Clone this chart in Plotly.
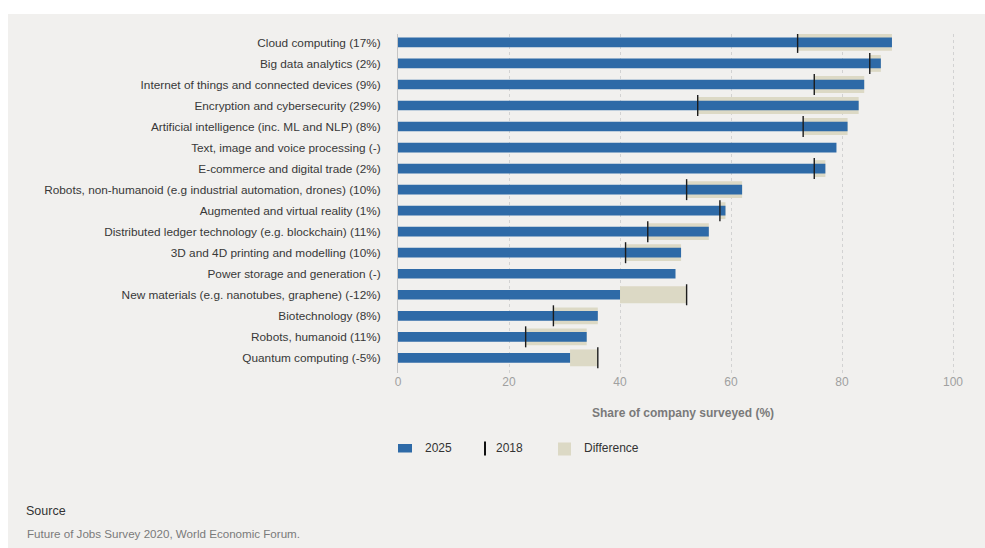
import plotly.graph_objects as go

categories = [
    "Cloud computing (17%)",
    "Big data analytics (2%)",
    "Internet of things and connected devices (9%)",
    "Encryption and cybersecurity (29%)",
    "Artificial intelligence (inc. ML and NLP) (8%)",
    "Text, image and voice processing (-)",
    "E-commerce and digital trade (2%)",
    "Robots, non-humanoid (e.g industrial automation, drones) (10%)",
    "Augmented and virtual reality (1%)",
    "Distributed ledger technology (e.g. blockchain) (11%)",
    "3D and 4D printing and modelling (10%)",
    "Power storage and generation (-)",
    "New materials (e.g. nanotubes, graphene) (-12%)",
    "Biotechnology (8%)",
    "Robots, humanoid (11%)",
    "Quantum computing (-5%)",
]
share_2025 = [89, 87, 84, 83, 81, 79, 77, 62, 59, 56, 51, 50, 40, 36, 34, 31]
share_2018 = [72, 85, 75, 54, 73, None, 75, 52, 58, 45, 41, None, 52, 28, 23, 36]
x_ticks = [0, 20, 40, 60, 80, 100]

BLUE = "#2e6aa7"
BEIGE = "#dcd9c5"
PANEL = "#f1f0ee"

# figure geometry (pixels)
W, H = 985, 548
PL, PR, PT, PB = 398, 968, 34, 373


def px(xp):
    return (xp - PL) / (PR - PL)


def py(yp):
    return (PB - yp) / (PB - PT)


diff_base, diff_len, diff_cat = [], [], []
for c, a, b in zip(categories, share_2025, share_2018):
    if b is None:
        continue
    diff_base.append(min(a, b))
    diff_len.append(abs(a - b))
    diff_cat.append(c)

fig = go.Figure()
fig.add_trace(go.Bar(
    y=diff_cat, x=diff_len, base=diff_base, orientation="h",
    marker=dict(color=BEIGE, line=dict(width=0)), width=0.8,
    name="Difference", showlegend=False, hoverinfo="skip",
))
fig.add_trace(go.Bar(
    y=categories, x=share_2025, orientation="h",
    marker=dict(color=BLUE, line=dict(width=0)), width=0.46,
    name="2025", showlegend=False,
))
fig.add_trace(go.Scatter(
    y=categories, x=share_2018, mode="markers",
    marker=dict(symbol="line-ns", size=15, line=dict(width=1.4, color="#1c1c1c")),
    name="2018", showlegend=False,
))

font = "Liberation Sans, Arial, sans-serif"

fig.update_layout(
    width=W, height=H,
    margin=dict(l=PL, r=W - PR, t=PT, b=H - PB, pad=0),
    paper_bgcolor="white",
    plot_bgcolor="rgba(0,0,0,0)",
    barmode="overlay",
    font=dict(family=font, size=12, color="#333"),
    showlegend=False,
    xaxis=dict(
        range=[0, 102.7], tickvals=x_ticks, showgrid=True, griddash="dot",
        gridcolor="#d2d2d2", gridwidth=1, zeroline=False, showline=False,
        ticks="", tickfont=dict(size=12, color="#a0a0a0", family=font),
        fixedrange=True,
    ),
    yaxis=dict(
        categoryorder="array", categoryarray=categories,
        range=[15.72, -0.4], showgrid=False, zeroline=False,
        showline=True, linecolor="#c4c4c4", linewidth=1,
        ticks="outside", ticklen=14, tickcolor="rgba(0,0,0,0)",
        tickfont=dict(size=11.8, color="#383838", family=font),
    ),
)

shapes = [
    dict(type="rect", xref="paper", yref="paper", layer="below",
         x0=px(8), x1=px(990), y0=py(560), y1=py(14),
         fillcolor=PANEL, line=dict(width=0)),
    # legend swatches
    dict(type="rect", xref="paper", yref="paper",
         x0=px(398), x1=px(412), y0=py(452.5), y1=py(444),
         fillcolor=BLUE, line=dict(width=0)),
    dict(type="line", xref="paper", yref="paper",
         x0=px(485), x1=px(485), y0=py(455.5), y1=py(441.5),
         line=dict(color="#111", width=2)),
    dict(type="rect", xref="paper", yref="paper",
         x0=px(558), x1=px(571), y0=py(455.5), y1=py(442.5),
         fillcolor=BEIGE, line=dict(width=0)),
]

annotations = [
    dict(text="<b>Share of company surveyed (%)</b>", xref="paper", yref="paper",
         x=px(683), y=py(413), xanchor="center", yanchor="middle", showarrow=False,
         font=dict(size=12, color="#7a7a7a", family=font)),
    dict(text="2025", xref="paper", yref="paper", x=px(423), y=py(448),
         xanchor="left", yanchor="middle", showarrow=False,
         font=dict(size=12, color="#333", family=font)),
    dict(text="2018", xref="paper", yref="paper", x=px(494), y=py(448),
         xanchor="left", yanchor="middle", showarrow=False,
         font=dict(size=12, color="#333", family=font)),
    dict(text="Difference", xref="paper", yref="paper", x=px(582), y=py(448),
         xanchor="left", yanchor="middle", showarrow=False,
         font=dict(size=12, color="#333", family=font)),
    dict(text="Source", xref="paper", yref="paper", x=px(24), y=py(511),
         xanchor="left", yanchor="middle", showarrow=False,
         font=dict(size=12.5, color="#333", family=font)),
    dict(text="Future of Jobs Survey 2020, World Economic Forum.", xref="paper", yref="paper",
         x=px(25), y=py(533), xanchor="left", yanchor="middle", showarrow=False,
         font=dict(size=11.6, color="#7a7a7a", family=font)),
]

fig.update_layout(shapes=shapes, annotations=annotations)
fig.write_html("out.html")
